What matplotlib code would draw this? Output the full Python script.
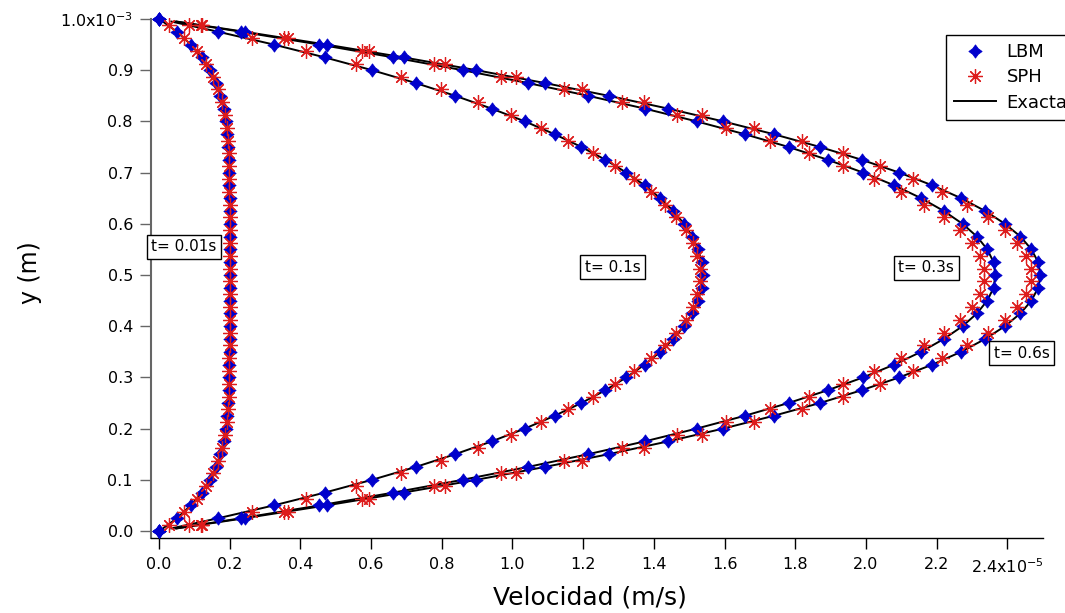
"""Poiseuille start-up flow: LBM vs SPH vs exact velocity profiles at four times.

Velocities in units of 1e-5 m/s, heights in units of 1e-3 m (the axis
multipliers are written into the last tick label, as in the original figure).
"""
import matplotlib

matplotlib.use("Agg")
import matplotlib.pyplot as plt
from matplotlib.lines import Line2D
from matplotlib.path import Path
from matplotlib.ticker import FixedLocator, FuncFormatter

# --- heights (x1e-3 m) ---------------------------------------------------
Y_LBM = [0.000, 0.025, 0.050, 0.075, 0.100, 0.125, 0.150, 0.175, 0.200, 0.225, 0.250,
         0.275, 0.300, 0.325, 0.350, 0.375, 0.400, 0.425, 0.450, 0.475, 0.500,
         0.525, 0.550, 0.575, 0.600, 0.625, 0.650, 0.675, 0.700, 0.725, 0.750,
         0.775, 0.800, 0.825, 0.850, 0.875, 0.900, 0.925, 0.950, 0.975, 1.000]
Y_EXACT = [0.005, 0.025, 0.050, 0.075, 0.100, 0.125, 0.150, 0.175, 0.200, 0.225, 0.250,
           0.275, 0.300, 0.325, 0.350, 0.375, 0.400, 0.425, 0.450, 0.475, 0.500,
           0.525, 0.550, 0.575, 0.600, 0.625, 0.650, 0.675, 0.700, 0.725, 0.750,
           0.775, 0.800, 0.825, 0.850, 0.875, 0.900, 0.925, 0.950, 0.975, 0.995]
Y_SPH = [0.0125, 0.0375, 0.0625, 0.0875, 0.1125, 0.1375, 0.1625, 0.1875, 0.2125, 0.2375,
         0.2625, 0.2875, 0.3125, 0.3375, 0.3625, 0.3875, 0.4125, 0.4375, 0.4625, 0.4875,
         0.5125, 0.5375, 0.5625, 0.5875, 0.6125, 0.6375, 0.6625, 0.6875, 0.7125, 0.7375,
         0.7625, 0.7875, 0.8125, 0.8375, 0.8625, 0.8875, 0.9125, 0.9375, 0.9625, 0.9875]

# --- LBM velocities (x1e-5 m/s) -------------------------------------------
LBM_T001 = [0.000, 0.051, 0.090, 0.121, 0.144, 0.161, 0.174, 0.183, 0.189, 0.193, 0.196,
            0.197, 0.198, 0.199, 0.200, 0.200, 0.200, 0.200, 0.200, 0.200, 0.200,
            0.200, 0.200, 0.200, 0.200, 0.200, 0.200, 0.199, 0.198, 0.197, 0.196,
            0.193, 0.189, 0.183, 0.174, 0.161, 0.144, 0.121, 0.090, 0.051, 0.000]
LBM_T01 = [0.000, 0.168, 0.325, 0.469, 0.603, 0.726, 0.838, 0.941, 1.035, 1.119, 1.195,
           1.263, 1.322, 1.374, 1.418, 1.455, 1.485, 1.509, 1.525, 1.535, 1.538,
           1.535, 1.525, 1.509, 1.485, 1.455, 1.418, 1.374, 1.322, 1.263, 1.195,
           1.119, 1.035, 0.941, 0.838, 0.726, 0.603, 0.469, 0.325, 0.168, 0.000]
LBM_T03 = [0.000, 0.233, 0.454, 0.663, 0.859, 1.043, 1.214, 1.374, 1.521, 1.657, 1.781,
           1.892, 1.992, 2.080, 2.156, 2.220, 2.273, 2.314, 2.343, 2.361, 2.366,
           2.361, 2.343, 2.314, 2.273, 2.220, 2.156, 2.080, 1.992, 1.892, 1.781,
           1.657, 1.521, 1.374, 1.214, 1.043, 0.859, 0.663, 0.454, 0.233, 0.000]
LBM_T06 = [0.000, 0.243, 0.474, 0.692, 0.898, 1.091, 1.272, 1.440, 1.596, 1.739, 1.870,
           1.988, 2.094, 2.188, 2.269, 2.337, 2.393, 2.437, 2.468, 2.487, 2.493,
           2.487, 2.468, 2.437, 2.393, 2.337, 2.269, 2.188, 2.094, 1.988, 1.870,
           1.739, 1.596, 1.440, 1.272, 1.091, 0.898, 0.692, 0.474, 0.243, 0.000]

# --- exact solution (x1e-5 m/s) ------------------------------------------
EXACT_T001 = [0.011, 0.051, 0.090, 0.121, 0.144, 0.161, 0.174, 0.183, 0.189, 0.193, 0.196,
              0.197, 0.198, 0.199, 0.200, 0.200, 0.200, 0.200, 0.200, 0.200, 0.200,
              0.200, 0.200, 0.200, 0.200, 0.200, 0.200, 0.199, 0.198, 0.197, 0.196,
              0.193, 0.189, 0.183, 0.174, 0.161, 0.144, 0.121, 0.090, 0.051, 0.011]
EXACT_T01 = [0.035, 0.168, 0.325, 0.469, 0.603, 0.726, 0.838, 0.941, 1.035, 1.119, 1.195,
             1.263, 1.322, 1.374, 1.418, 1.455, 1.485, 1.509, 1.525, 1.535, 1.538,
             1.535, 1.525, 1.509, 1.485, 1.455, 1.418, 1.374, 1.322, 1.263, 1.195,
             1.119, 1.035, 0.941, 0.838, 0.726, 0.603, 0.469, 0.325, 0.168, 0.035]
EXACT_T03 = [0.048, 0.233, 0.454, 0.663, 0.859, 1.043, 1.214, 1.374, 1.521, 1.657, 1.781,
             1.892, 1.992, 2.080, 2.156, 2.220, 2.273, 2.314, 2.343, 2.361, 2.366,
             2.361, 2.343, 2.314, 2.273, 2.220, 2.156, 2.080, 1.992, 1.892, 1.781,
             1.657, 1.521, 1.374, 1.214, 1.043, 0.859, 0.663, 0.454, 0.233, 0.048]
EXACT_T06 = [0.050, 0.243, 0.474, 0.692, 0.898, 1.091, 1.272, 1.440, 1.596, 1.739, 1.870,
             1.988, 2.094, 2.188, 2.269, 2.337, 2.393, 2.437, 2.468, 2.487, 2.493,
             2.487, 2.468, 2.437, 2.393, 2.337, 2.269, 2.188, 2.094, 1.988, 1.870,
             1.739, 1.596, 1.440, 1.272, 1.091, 0.898, 0.692, 0.474, 0.243, 0.050]

# --- SPH velocities (x1e-5 m/s) -------------------------------------------
SPH_T001 = [0.027, 0.072, 0.107, 0.133, 0.153, 0.168, 0.179, 0.186, 0.191, 0.194,
            0.197, 0.198, 0.199, 0.199, 0.200, 0.200, 0.200, 0.200, 0.200, 0.200,
            0.200, 0.200, 0.200, 0.200, 0.200, 0.200, 0.199, 0.199, 0.198, 0.197,
            0.194, 0.191, 0.186, 0.179, 0.168, 0.153, 0.133, 0.107, 0.072, 0.027]
SPH_T01 = [0.086, 0.262, 0.416, 0.557, 0.686, 0.799, 0.903, 0.997, 1.082, 1.158,
           1.228, 1.289, 1.344, 1.391, 1.431, 1.463, 1.490, 1.510, 1.523, 1.530,
           1.530, 1.523, 1.510, 1.490, 1.463, 1.431, 1.391, 1.344, 1.289, 1.228,
           1.158, 1.082, 0.997, 0.903, 0.799, 0.686, 0.557, 0.416, 0.262, 0.086]
SPH_T03 = [0.118, 0.355, 0.575, 0.777, 0.967, 1.145, 1.311, 1.464, 1.603, 1.728,
           1.838, 1.936, 2.022, 2.099, 2.165, 2.220, 2.265, 2.300, 2.323, 2.335,
           2.335, 2.323, 2.300, 2.265, 2.220, 2.165, 2.099, 2.022, 1.936, 1.838,
           1.728, 1.603, 1.464, 1.311, 1.145, 0.967, 0.777, 0.575, 0.355, 0.118]
SPH_T06 = [0.123, 0.365, 0.595, 0.809, 1.011, 1.198, 1.373, 1.535, 1.684, 1.818,
           1.936, 2.040, 2.133, 2.215, 2.285, 2.344, 2.392, 2.428, 2.453, 2.466,
           2.466, 2.453, 2.428, 2.392, 2.344, 2.285, 2.215, 2.133, 2.040, 1.936,
           1.818, 1.684, 1.535, 1.373, 1.198, 1.011, 0.809, 0.595, 0.365, 0.123]

TIME_LABELS = ["t= 0.01s", "t= 0.1s", "t= 0.3s", "t= 0.6s"]
X_TICKS = [0.0, 0.2, 0.4, 0.6, 0.8, 1.0, 1.2, 1.4, 1.6, 1.8, 2.0, 2.2, 2.4]
Y_TICKS = [0.0, 0.1, 0.2, 0.3, 0.4, 0.5, 0.6, 0.7, 0.8, 0.9, 1.0]

# label anchor points (data coords) for the time annotations
LABEL_XY = [(0.071, 0.555), (1.284, 0.515), (2.170, 0.514), (2.441, 0.347)]

BLUE = "#0000cc"
RED = "#dd1c1c"
GREY = "#666666"

# concave four-point diamond like Igor's marker
DIAMOND = Path(
    [(0, 1), (0.42, 0.42), (1, 0), (0.42, -0.42), (0, -1), (-0.42, -0.42),
     (-1, 0), (-0.42, 0.42), (0, 1)],
    [Path.MOVETO] + [Path.LINETO] * 7 + [Path.CLOSEPOLY],
)
ASTERISK = (8, 2, 0)
LBM_STYLE = dict(ls="none", marker=DIAMOND, ms=9.5, mfc=BLUE, mec=BLUE, mew=0.6)
SPH_STYLE = dict(ls="none", marker=ASTERISK, ms=10.5, mec=RED, mew=0.9)


def tick_fmt(last, exp):
    """Plain one-decimal labels, with the power of ten on the last tick."""
    def fmt(v, _pos):
        if abs(v - last) < 1e-9:
            return f"{v:.1f}x10$^{{{exp}}}$"
        return f"{v:.1f}"
    return FuncFormatter(fmt)


plt.rcParams["font.family"] = ["DejaVu Sans"]
plt.rcParams["mathtext.default"] = "regular"

fig = plt.figure(figsize=(10.65, 6.13), dpi=100)
ax = fig.add_axes([151 / 1065, 1 - 538 / 613, 892 / 1065, 519 / 613])

for xs in (EXACT_T001, EXACT_T01, EXACT_T03, EXACT_T06):
    ax.plot(xs, Y_EXACT, color="black", lw=1.4, zorder=3, clip_on=False)
for xs in (LBM_T001, LBM_T01, LBM_T03, LBM_T06):
    ax.plot(xs, Y_LBM, zorder=4, clip_on=False, **LBM_STYLE)
for xs in (SPH_T001, SPH_T01, SPH_T03, SPH_T06):
    ax.plot(xs, Y_SPH, zorder=5, clip_on=False, **SPH_STYLE)

for (lx, ly), txt in zip(LABEL_XY, TIME_LABELS):
    ax.text(lx, ly, txt, ha="center", va="center", fontsize=11, zorder=6,
            bbox=dict(boxstyle="square,pad=0.3", fc="white", ec="black", lw=1))

ax.set_xlim(-0.0226, 2.5007)
ax.set_ylim(-0.0137, 1.0)
ax.xaxis.set_major_locator(FixedLocator(X_TICKS))
ax.yaxis.set_major_locator(FixedLocator(Y_TICKS))
ax.xaxis.set_major_formatter(tick_fmt(2.4, -5))
ax.yaxis.set_major_formatter(tick_fmt(1.0, -3))

for side in ("top", "right"):
    ax.spines[side].set_visible(False)
ax.spines["left"].set(color=GREY, lw=1.5)
ax.spines["bottom"].set(color="black", lw=1.0)
ax.tick_params(axis="x", direction="out", length=8, width=1, pad=6, labelsize=11.5)
ax.tick_params(axis="y", direction="out", length=8, width=1, pad=5, labelsize=11.5,
               color=GREY)

ax.set_xlabel("Velocidad (m/s)", fontsize=18)
ax.set_ylabel("y (m)", fontsize=17)
ax.xaxis.label.set(va="center", ha="center")
ax.yaxis.label.set(va="center", ha="center")
ax.xaxis.set_label_coords(0.4922, -0.1156)
ax.yaxis.set_label_coords(-0.1357, 0.5106)

handles = [Line2D([], [], **LBM_STYLE), Line2D([], [], **SPH_STYLE),
           Line2D([], [], color="black", lw=1.4)]
leg = ax.legend(handles, ["LBM", "SPH", "Exacta"], loc="upper left",
                bbox_to_anchor=(946 / 1065, 1 - 35 / 613), bbox_transform=fig.transFigure,
                borderaxespad=0, fontsize=13, frameon=True, fancybox=False,
                edgecolor="black", framealpha=1, handlelength=2.3, handletextpad=0.6,
                borderpad=0.45, labelspacing=0.4)
leg.get_frame().set_linewidth(1.0)

fig.savefig("out.png", dpi=100)
